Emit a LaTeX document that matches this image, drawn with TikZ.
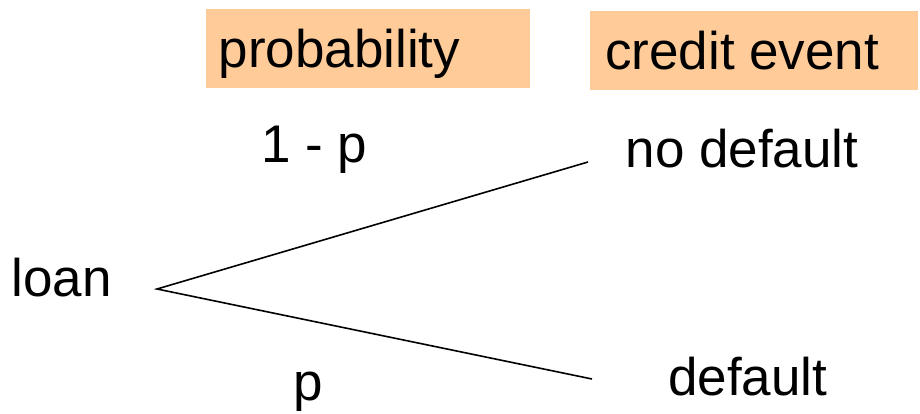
\documentclass[tikz,border=0pt]{standalone}
\usepackage{fontspec}
\setmainfont{Liberation Sans}
\definecolor{boxorange}{HTML}{FFCC99}
\begin{document}
\begin{tikzpicture}[x=1pt,y=1pt,
  lbl/.style={anchor=base west,inner sep=0pt,font=\fontsize{53}{60}\selectfont},
  hdr/.style={fill=boxorange,draw=none,anchor=south west,inner sep=0pt},
  branch/.style={line width=1.6pt,black}]
\useasboundingbox (0,0) rectangle (920,413);
% header boxes
\node[hdr,minimum width=324pt,minimum height=79pt] (pbox) at (206,325) {};
\node[hdr,minimum width=328pt,minimum height=79pt] (cbox) at (590,323) {};
\node[lbl] (prob) at (218.5,345) {probability};
\node[lbl] (cred) at (605,343) {credit event};
% labels
\node[lbl] (loan) at (11.5,117) {loan};
\node[lbl] (onemp) at (261,251) {1 - p};
\node[lbl] (pp) at (293.5,13) {p};
\node[lbl] (nodef) at (625.5,246) {no default};
\node[lbl] (def) at (668,18) {default};
% branches
\coordinate (root) at (157,124);
\coordinate (up) at (588,251);
\coordinate (down) at (592,34);
\draw[branch] (up) -- (root) -- (down);
\end{tikzpicture}
\end{document}
